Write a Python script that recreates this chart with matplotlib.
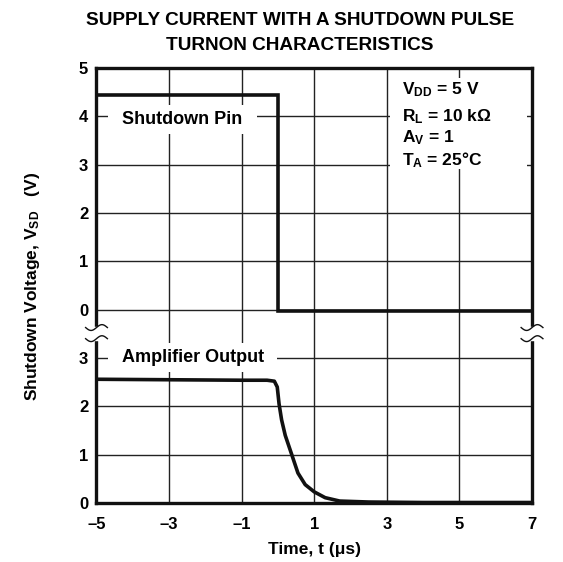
import numpy as np
import matplotlib
matplotlib.use("Agg")
import matplotlib.pyplot as plt

plt.rcParams['font.family'] = ['Liberation Sans', 'DejaVu Sans']
plt.rcParams['font.weight'] = 'bold'
plt.rcParams['mathtext.fontset'] = 'custom'
plt.rcParams['mathtext.rm'] = 'Liberation Sans:bold'
plt.rcParams['mathtext.bf'] = 'Liberation Sans:bold'
plt.rcParams['mathtext.it'] = 'Liberation Sans:bold'

# ---- data ----
x_ticks = [-5, -3, -1, 1, 3, 5, 7]
x_tick_labels = ['\u20135', '\u20133', '\u20131', '1', '3', '5', '7']
upper_ticks = [0, 1, 2, 3, 4, 5]
lower_ticks = [0, 1, 2, 3]

# Shutdown pin voltage (upper panel)
sd_t = [-5, 0, 0, 7]
sd_v = [4.45, 4.45, -0.03, -0.03]

# Amplifier output (lower panel)
amp_t = [-5, -1, -0.3, -0.1, -0.02, 0.03, 0.1, 0.2, 0.38, 0.55, 0.75, 1.0, 1.3, 1.7, 2.5, 4, 7]
amp_v = [2.56, 2.54, 2.54, 2.52, 2.40, 2.05, 1.72, 1.40, 1.0, 0.62, 0.38, 0.23, 0.11, 0.04, 0.02, 0.01, 0.01]

upper_offset = 4.0  # upper panel 0..5 drawn at 4..9

fig = plt.figure(figsize=(5.63, 5.62), dpi=100)
ax = fig.add_axes([0.1714, 0.105, 0.7736, 0.774])
ax.set_xlim(-5, 7)
ax.set_ylim(0, 9)

lw_spine = 2.4
for s in ax.spines.values():
    s.set_linewidth(lw_spine)
    s.set_color('#111111')
    s.set_zorder(5)

# grid
for xt in x_ticks:
    ax.axvline(xt, color='#222222', lw=1.0, zorder=1)
yt_pos = list(lower_ticks) + [v + upper_offset for v in upper_ticks]
for yt in yt_pos:
    ax.axhline(yt, color='#222222', lw=1.0, zorder=1)

ax.set_xticks(x_ticks)
ax.set_xticklabels(x_tick_labels, fontsize=12, fontweight='bold')
ax.set_yticks(yt_pos)
ax.set_yticklabels([str(v) for v in lower_ticks] + [str(v) for v in upper_ticks],
                   fontsize=12, fontweight='bold')
ax.tick_params(axis='y', length=0, pad=6)
ax.tick_params(axis='x', length=0, pad=10)

# curves
ax.plot(sd_t, [v + upper_offset for v in sd_v], color='#111111', lw=2.6,
        solid_joinstyle='miter', zorder=4)
ax.plot(amp_t, amp_v, color='#111111', lw=2.6, zorder=4, solid_capstyle='butt')

# white backgrounds behind labels
ax.add_patch(plt.Rectangle((-4.68, 7.64), 4.1, 0.6, facecolor='white',
                           edgecolor='none', zorder=2))
ax.add_patch(plt.Rectangle((-4.68, 2.71), 4.66, 0.6, facecolor='white',
                           edgecolor='none', zorder=2))
ax.add_patch(plt.Rectangle((3.09, 6.9), 3.77, 1.9, facecolor='white',
                           edgecolor='none', zorder=2))

ax.text(-4.31, 7.93, 'Shutdown Pin', ha='left', va='center', fontsize=13,
        fontweight='bold', zorder=3)
ax.text(-4.31, 3.0, 'Amplifier Output', ha='left', va='center', fontsize=13,
        fontweight='bold', zorder=3)

cond = [r'V$_{\mathbf{DD}}$ = 5 V', r'R$_{\mathbf{L}}$ = 10 k' + '\u03a9',
        r'A$_{\mathbf{V}}$ = 1', r'T$_{\mathbf{A}}$ = 25' + '\u00b0' + 'C']
cond_y = [8.55, 8.0, 7.56, 7.1]
for s, yy in zip(cond, cond_y):
    ax.text(3.41, yy, s, ha='left', va='center', fontsize=12.5, fontweight='bold', zorder=3)

# break marks
def brk(xc, half):
    xs = np.linspace(xc - half, xc + half, 40)
    for y0 in (3.63, 3.4):
        ys = y0 + 0.06 * np.sin((xs - xc) / half * np.pi)
        ax.plot(xs, ys, color='#111111', lw=1.0, clip_on=False, zorder=7)
    ax.plot([xc, xc], [3.42, 3.61], color='white', lw=lw_spine + 1.5,
            clip_on=False, zorder=6)

brk(-5, 0.3)
brk(7, 0.3)

ax.set_xlabel('Time, t (\u03bcs)', fontsize=12.5, fontweight='bold', labelpad=7)
fig.text(0.057, 0.49, r'Shutdown Voltage, V$_{\mathbf{SD}}$   (V)', rotation=90,
         ha='center', va='center', fontsize=12.5, fontweight='bold')

fig.text(0.533, 0.963, 'SUPPLY CURRENT WITH A SHUTDOWN PULSE', ha='center', va='center',
         fontsize=13.7, fontweight='bold')
fig.text(0.533, 0.919, 'TURNON CHARACTERISTICS', ha='center', va='center',
         fontsize=13.7, fontweight='bold')

fig.savefig('out.png', dpi=100)
